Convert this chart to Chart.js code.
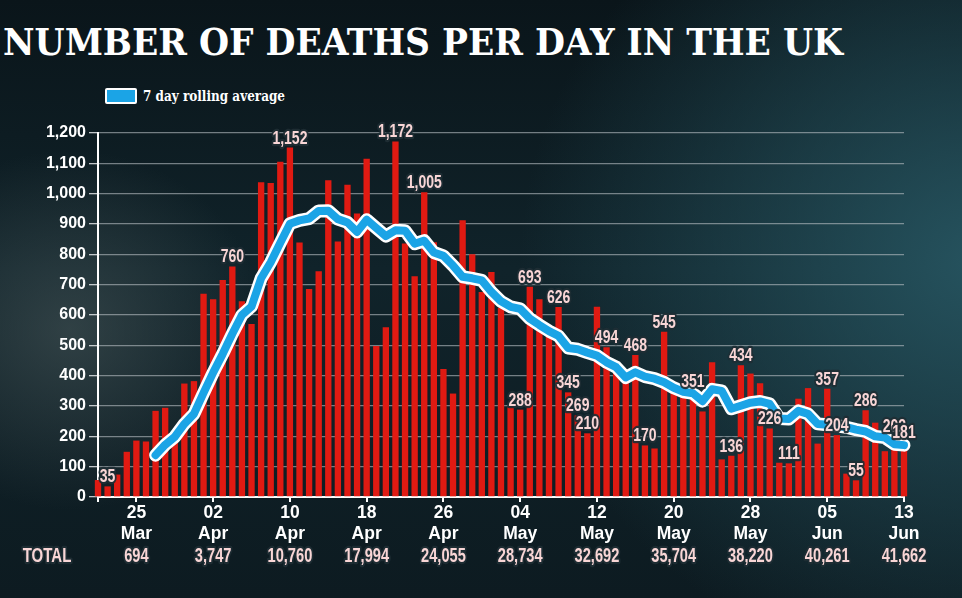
<!DOCTYPE html>
<html><head><meta charset="utf-8">
<script src="https://cdn.jsdelivr.net/npm/chart.js@4.4.0/dist/chart.umd.min.js"></script>
<style>
html,body{margin:0;padding:0;width:962px;height:598px;overflow:hidden;}
body{position:relative;
background:
 radial-gradient(ellipse 260px 240px at 70px 330px, rgba(75,90,92,0.55), rgba(0,0,0,0) 75%),
 radial-gradient(ellipse 460px 420px at 980px 260px, rgba(40,88,100,0.9), rgba(20,50,60,0) 100%),
 linear-gradient(180deg,#0a151a 0%,#10232a 45%,#0d1b21 100%);}
#title{position:absolute;left:3px;top:23px;font:bold 38px 'DejaVu Serif',serif;line-height:38px;color:#fff;white-space:nowrap;transform-origin:0 0;}
#legend{position:absolute;left:105px;top:88px;height:16px;}
#legend .box{position:absolute;left:0;top:0;width:28px;height:12px;border:2px solid #fff;background:#1ba4e6;border-radius:2px;}
#legend .txt{position:absolute;left:38px;top:0;font:bold 14px 'DejaVu Serif',serif;line-height:16px;color:#fff;white-space:nowrap;transform-origin:0 0;}
#wrap{position:absolute;left:0;top:0;width:962px;height:598px;}
</style></head>
<body>
<div id="title">NUMBER OF DEATHS PER DAY IN THE UK</div>
<div id="legend"><span class="box"></span><span class="txt" id="ltxt">7 day rolling average</span></div>
<div id="wrap"><canvas id="c" width="962" height="598"></canvas></div>
<script>
const days = ['21 Mar','22 Mar','23 Mar','24 Mar','25 Mar','26 Mar','27 Mar','28 Mar','29 Mar','30 Mar','31 Mar',
'01 Apr','02 Apr','03 Apr','04 Apr','05 Apr','06 Apr','07 Apr','08 Apr','09 Apr','10 Apr',
'11 Apr','12 Apr','13 Apr','14 Apr','15 Apr','16 Apr','17 Apr','18 Apr','19 Apr','20 Apr',
'21 Apr','22 Apr','23 Apr','24 Apr','25 Apr','26 Apr','27 Apr','28 Apr','29 Apr','30 Apr',
'01 May','02 May','03 May','04 May','05 May','06 May','07 May','08 May','09 May','10 May',
'11 May','12 May','13 May','14 May','15 May','16 May','17 May','18 May','19 May','20 May',
'21 May','22 May','23 May','24 May','25 May','26 May','27 May','28 May','29 May','30 May','31 May',
'01 Jun','02 Jun','03 Jun','04 Jun','05 Jun','06 Jun','07 Jun','08 Jun','09 Jun','10 Jun','11 Jun','12 Jun','13 Jun'];

const deaths = [56,35,74,149,186,183,284,294,214,374,382,
670,652,715,760,645,570,1038,1035,1105,1152,
839,686,744,1044,842,1029,935,1115,498,560,
1172,836,728,1005,840,422,341,912,800,676,
742,624,296,288,693,652,536,626,345,269,
210,627,494,428,384,468,170,160,545,363,
338,351,282,444,124,136,434,407,375,226,113,
111,324,359,176,357,204,77,55,286,245,151,202,181];

const rollingAvg = [null,null,null,null,null,null,138,172,198,241,274,
343,410,472,538,600,628,721,774,838,901,
912,918,943,944,916,905,874,914,887,860,
879,878,835,845,806,795,763,726,721,714,
676,645,627,620,588,567,547,531,491,487,
476,466,444,428,394,411,397,390,378,360,
347,342,316,355,350,291,301,311,315,307,259,
257,284,274,241,238,235,230,222,216,200,196,174,171];

const tickDays = ['25 Mar','02 Apr','10 Apr','18 Apr','26 Apr','04 May','12 May','20 May','28 May','05 Jun','13 Jun'];
const totals = [694,3747,10760,17994,24055,28734,32692,35704,38220,40261,41662];
const labelledDays = ['22 Mar','04 Apr','10 Apr','21 Apr','24 Apr','04 May','05 May','08 May','09 May','10 May','11 May',
'13 May','16 May','17 May','19 May','22 May','26 May','27 May','30 May','01 Jun','05 Jun','06 Jun','08 Jun','09 Jun','12 Jun','13 Jun'];

const fmt = v => Number(v).toLocaleString('en-US');

function outlined(ctx, text, x, y, size, sx) {
  ctx.save();
  ctx.translate(x, y);
  ctx.scale(sx, 1);
  ctx.font = 'bold ' + size + 'px "Liberation Sans", Arial, sans-serif';
  ctx.textAlign = 'center';
  ctx.textBaseline = 'alphabetic';
  ctx.lineJoin = 'round';
  ctx.lineWidth = 4.5;
  ctx.strokeStyle = 'rgba(30,46,52,0.92)';
  ctx.strokeText(text, 0, 0);
  ctx.fillStyle = '#f9d6d6';
  ctx.fillText(text, 0, 0);
  ctx.restore();
}

const overlay = {
  id: 'overlay',
  afterDatasetsDraw(chart) {
    const ctx = chart.ctx;
    const meta = chart.getDatasetMeta(0);
    labelledDays.forEach(d => {
      const i = days.indexOf(d);
      const bar = meta.data[i];
      outlined(ctx, fmt(deaths[i]), bar.x, bar.y - 4, 17.5, 0.8);
    });
  },
  afterDraw(chart) {
    const ctx = chart.ctx;
    const xs = chart.scales.x;
    outlined(ctx, 'TOTAL', 47, 562, 19.5, 0.77);
    tickDays.forEach((d, k) => {
      const x = xs.getPixelForValue(days.indexOf(d));
      outlined(ctx, fmt(totals[k]), x, 562, 19.5, 0.75);
    });
  }
};

const xFont = {family: "'Liberation Sans', Arial, sans-serif", weight: 'bold', size: 17.5, lineHeight: 1.2};
const yFont = {family: "'Liberation Sans', Arial, sans-serif", weight: 'bold', size: 16};

new Chart(document.getElementById('c'), {
  type: 'bar',
  data: {
    labels: days,
    datasets: [
      {type: 'bar', data: deaths, backgroundColor: '#e01a12', barPercentage: 0.66, categoryPercentage: 1, order: 3, clip: false},
      {type: 'line', data: rollingAvg, borderColor: '#ffffff', borderWidth: 13, pointRadius: 0, tension: 0,
        borderJoinStyle: 'round', borderCapStyle: 'round', order: 2, clip: false, spanGaps: false},
      {type: 'line', data: rollingAvg, borderColor: '#1ba4e6', borderWidth: 8, pointRadius: 0, tension: 0,
        borderJoinStyle: 'round', borderCapStyle: 'round', order: 1, clip: false, spanGaps: false}
    ]
  },
  options: {
    responsive: false,
    animation: false,
    devicePixelRatio: 1,
    layout: {padding: {top: 133, right: 58, bottom: 0, left: 0}},
    plugins: {legend: {display: false}, tooltip: {enabled: false}},
    scales: {
      x: {
        offset: false,
        grid: {display: true, offset: false, drawOnChartArea: false, drawTicks: true, tickLength: 5, color: '#ffffff', lineWidth: 2},
        border: {color: '#ffffff', width: 2},
        ticks: {
          autoSkip: false, maxRotation: 0, minRotation: 0, color: '#ffffff', font: xFont, padding: 1,
          callback: function(v, i) {
            const lab = this.getLabelForValue(v);
            if (tickDays.includes(lab)) { const p = lab.split(' '); return [p[0], p[1]]; }
            if (i === 0) return '';
            return null;
          }
        },
        afterFit(s) { s.height = 101; }
      },
      y: {
        min: 0, max: 1200,
        ticks: {stepSize: 100, color: '#ffffff', font: yFont, padding: 3, callback: v => fmt(v)},
        grid: {color: 'rgba(185,192,196,0.6)', lineWidth: 1.3, tickLength: 9, tickColor: 'rgba(225,228,230,0.85)'},
        border: {color: '#ffffff', width: 2},
        afterFit(s) { s.width = 98; }
      }
    }
  },
  plugins: [overlay]
});

function fitText(el, w) {
  const r = el.getBoundingClientRect().width;
  if (r > 0) el.style.transform = 'scaleX(' + (w / r) + ')';
}
fitText(document.getElementById('title'), 840);
fitText(document.getElementById('ltxt'), 142);
</script>
</body></html>
